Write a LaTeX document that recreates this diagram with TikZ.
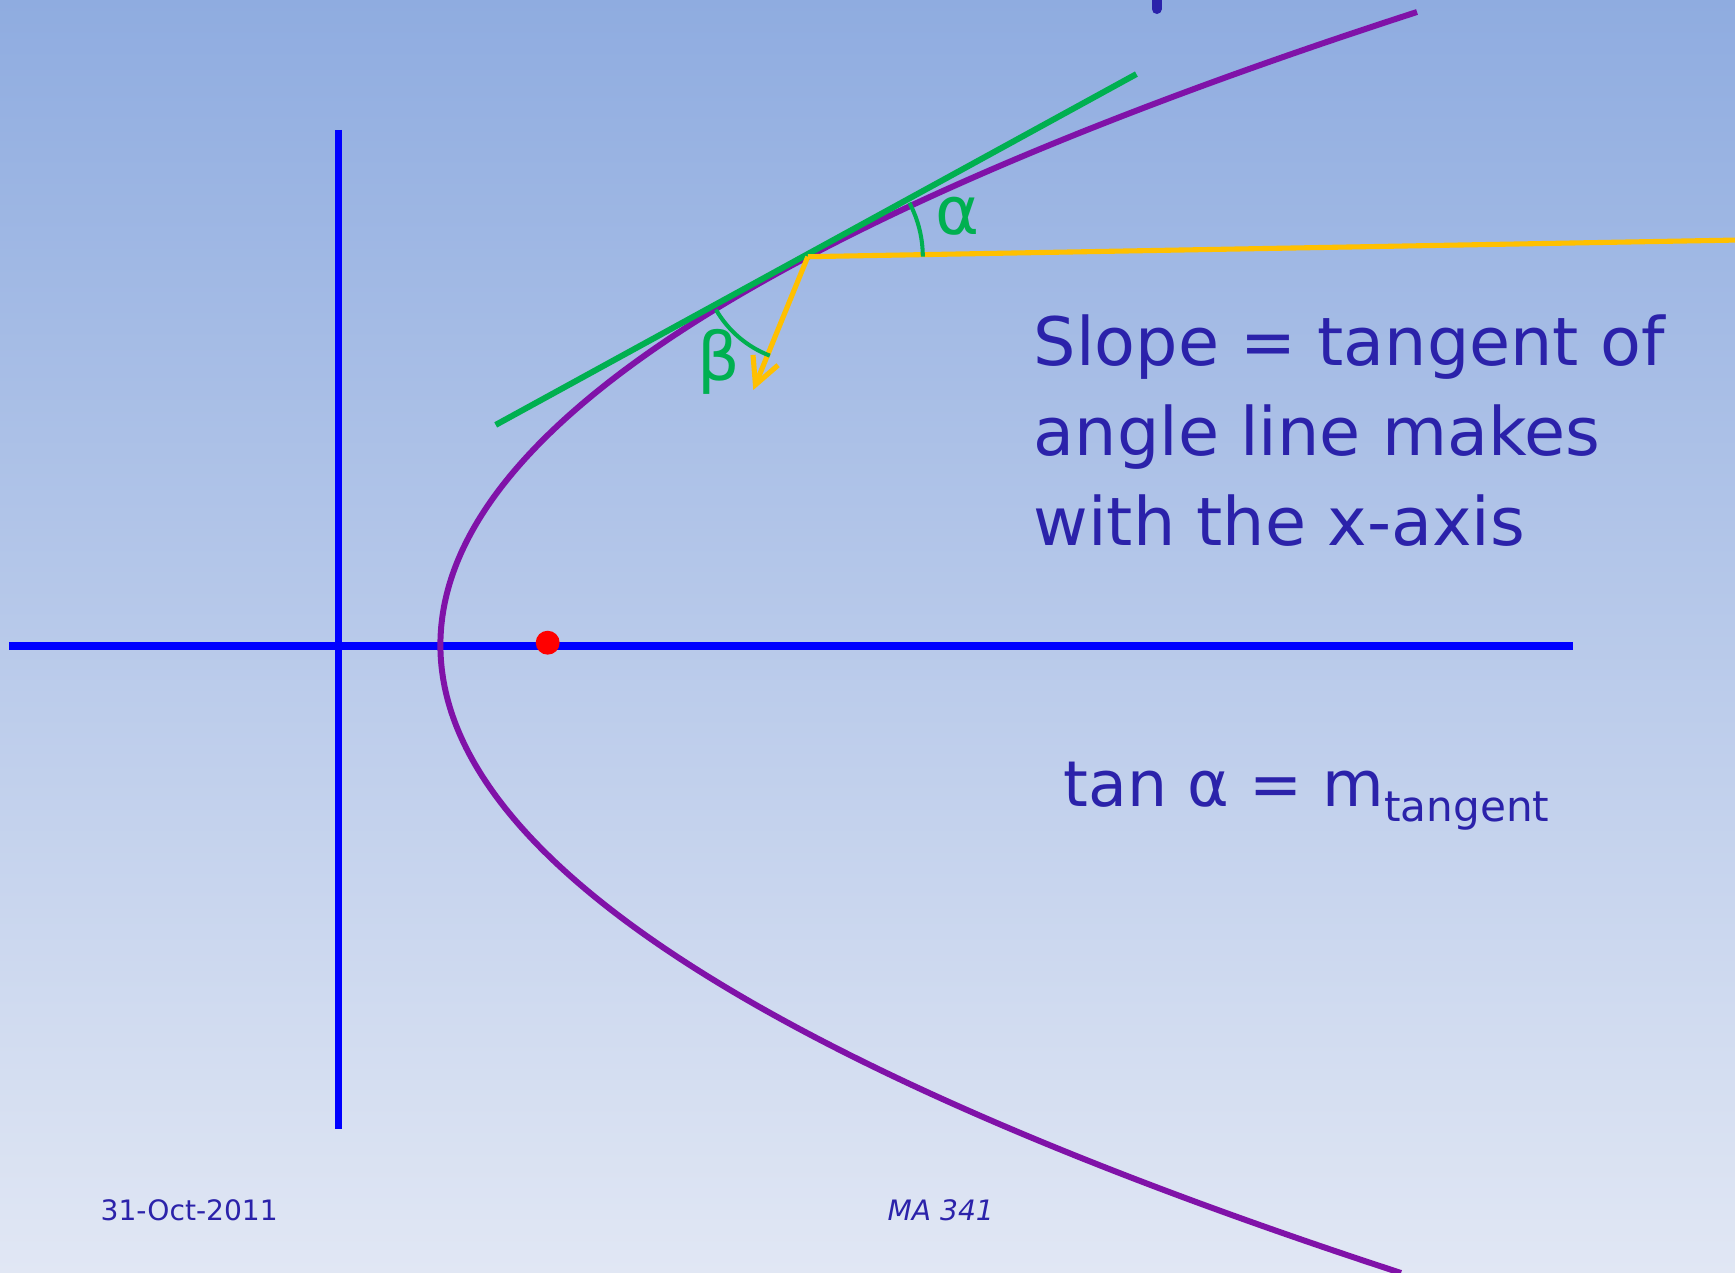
\documentclass[tikz,border=0pt]{standalone}
\usepackage{fontspec}
\setsansfont{DejaVu Sans}
\usetikzlibrary{arrows.meta,calc}
\definecolor{bgtop}{HTML}{8FACE0}
\definecolor{bgmid}{HTML}{BCCCEA}
\definecolor{bgbot}{HTML}{E1E7F4}
\definecolor{axisblue}{HTML}{0000FF}
\definecolor{curvepurple}{HTML}{8012A8}
\definecolor{tangreen}{HTML}{00B050}
\definecolor{refyellow}{HTML}{FFC000}
\definecolor{focusred}{HTML}{FF0000}
\definecolor{inkblue}{HTML}{2B22AA}

\begin{document}
\begin{tikzpicture}[
  x=0.01cm, y=-0.01cm,
  font=\sffamily,
  axis/.style={
    draw=axisblue,
    line width=2pt
  },
  curve/.style={
    draw=curvepurple,
    line width=1.7pt
  },
  tanline/.style={
    draw=tangreen,
    line width=1.7pt
  },
  anglearc/.style={
    draw=tangreen,
    line width=1.15pt
  },
  refline/.style={
    draw=refyellow,
    line width=1.45pt
  },
  dot/.style={
    circle,
    fill=focusred,
    inner sep=0pt,
    minimum size=6.8pt
  },
  bigtxt/.style={
    text=inkblue,
    inner sep=0pt,
    font=\sffamily\fontsize{19}{25.5}\selectfont
  },
  anglbl/.style={
    text=tangreen,
    inner sep=0pt,
    font=\sffamily\fontsize{19}{19}\selectfont
  },
  foot/.style={
    text=inkblue,
    inner sep=0pt,
    font=\sffamily\fontsize{8}{8}\selectfont
  }
]

% --- Background ---
\shade[top color=bgtop, middle color=bgmid, bottom color=bgbot] (0,0) rectangle (1735,1273);
\useasboundingbox (0,0) rectangle (1735,1273);

% bit of the title, cut off at the top
\draw[inkblue, line width=2.85pt, line cap=round] (1156.7,-12) -- (1156.7,9);

% --- Axes ---
\coordinate (xl) at (9,646);
\coordinate (xr) at (1573,646);
\coordinate (yt) at (338.5,130);
\coordinate (yb) at (338.5,1129);
\draw[axis] (xl) -- (xr);
\draw[axis] (yt) -- (yb);

% --- Parabola and focus ---
\draw[curve] plot[domain=12:1273, samples=120, smooth, variable=\t]
  ({440.4+(0.04936*(\t-645.1))^2}, {\t});
\node[dot] (focus) at (547.7,642.7) {};

% --- Tangent, reference line, arrow ---
\coordinate (T) at (807.8,256.7);
\coordinate (gA) at (495.7,424.9);
\coordinate (gB) at (1136.4,74.1);
\coordinate (yR) at (1740,240);
\coordinate (tip) at (753.3,390);

\draw[tanline] (gA) -- (gB);
\draw[refline] (T) -- (yR);
\draw[refline, -{Straight Barb[length=7.6pt,width=7.7pt]}] (T) -- (tip);

% angles
\draw[anglearc] (T) ++(0:115) arc[start angle=0, end angle=-28, radius=115];
\draw[anglearc] (T) ++(150:106) arc[start angle=150, end angle=111, radius=106];
\node[anglbl, anchor=base] (alpha) at (957.5,235) {α};
\node[anglbl, anchor=base] (beta) at (719,381) {β};

% --- Text ---
\node[bigtxt, align=left, anchor=base west] (slope) at (1033,545)
  {Slope = tangent of\\angle line makes\\with the x-axis};
\node[bigtxt, anchor=base west, font=\sffamily\fontsize{18}{18}\selectfont] (tanrel) at (1063,806.7)
  {tan α = m\raisebox{-4.3pt}{\fontsize{12}{12}\selectfont tangent}};

% footer
\node[foot, anchor=base west] (date) at (100,1220) {31-Oct-2011};
\node[foot, anchor=base west, font=\sffamily\itshape\fontsize{8}{8}\selectfont] (course) at (887,1220) {MA 341};

\end{tikzpicture}
\end{document}
